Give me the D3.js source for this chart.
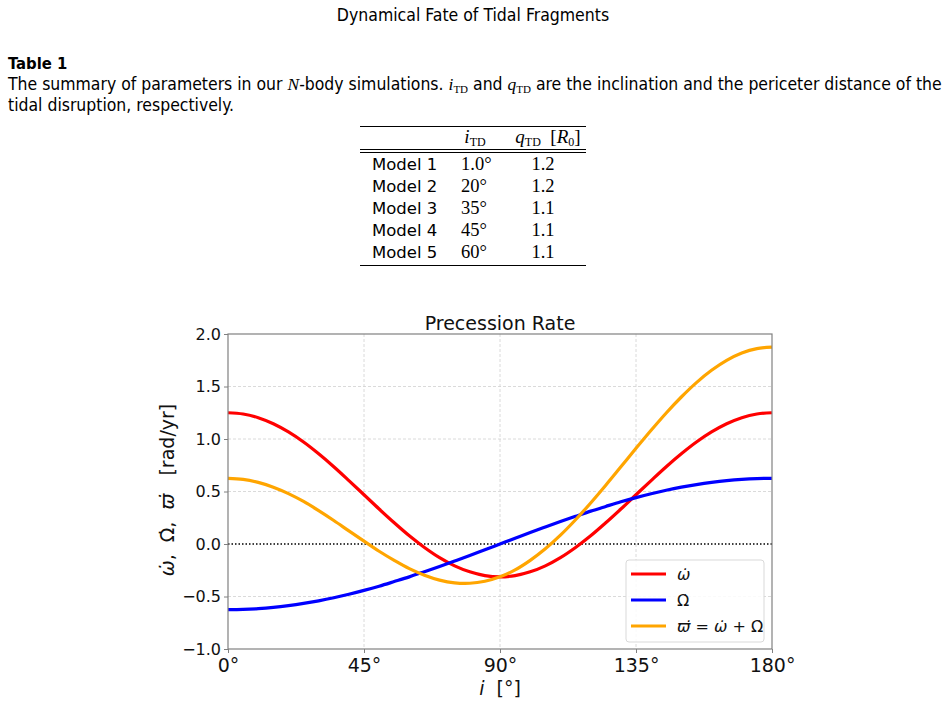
<!DOCTYPE html>
<html><head><meta charset="utf-8">
<script src="https://cdn.jsdelivr.net/npm/d3@7"></script>
<style>
body{margin:0;background:#fff;}
svg text{font-family:"DejaVu Sans",sans-serif;white-space:pre;}
.doc{font-family:"Liberation Sans Narrow","DejaVu Sans Condensed",sans-serif;}
.serif{font-family:"Liberation Serif","DejaVu Serif",serif;}
</style></head>
<body>
<svg id="c" width="946" height="703"></svg>
<script>
const inclination = [0,5,10,15,20,25,30,35,40,45,50,55,60,65,70,75,80,85,90,95,100,105,110,115,120,125,130,135,140,145,150,155,160,165,170,175,180];
const omegaDot = [1.250,1.238,1.203,1.145,1.067,0.971,0.859,0.736,0.604,0.469,0.333,0.202,0.078,-0.033,-0.130,-0.208,-0.265,-0.301,-0.313,-0.301,-0.265,-0.208,-0.130,-0.033,0.078,0.202,0.333,0.469,0.604,0.736,0.859,0.971,1.067,1.145,1.203,1.238,1.250];
const OmegaDot = [-0.625,-0.623,-0.616,-0.604,-0.587,-0.566,-0.541,-0.512,-0.479,-0.442,-0.402,-0.358,-0.313,-0.264,-0.214,-0.162,-0.109,-0.054,0.000,0.054,0.109,0.162,0.214,0.264,0.313,0.358,0.402,0.442,0.479,0.512,0.541,0.566,0.587,0.604,0.616,0.623,0.625];
const varpiDot = [0.625,0.615,0.587,0.541,0.480,0.405,0.318,0.224,0.125,0.027,-0.069,-0.156,-0.235,-0.297,-0.344,-0.370,-0.374,-0.355,-0.313,-0.247,-0.156,-0.046,0.084,0.231,0.391,0.560,0.735,0.911,1.083,1.248,1.400,1.537,1.654,1.749,1.819,1.861,1.875];
const xTicks = [0,45,90,135,180];
const yTicks = [-1.0,-0.5,0.0,0.5,1.0,1.5,2.0];
const seriesColors = ["#ff0000","#0000ff","#ffa500"];
const tableModels = ["Model 1","Model 2","Model 3","Model 4","Model 5"];
const tableInc = ["1.0°","20°","35°","45°","60°"];
const tableQ = ["1.2","1.2","1.1","1.1","1.1"];

const svg = d3.select("#c");

// Document header
svg.append("text").attr("class","doc").attr("x",473).attr("y",21).attr("text-anchor","middle")
  .attr("font-size",17.5).text("Dynamical Fate of Tidal Fragments");
svg.append("text").attr("class","doc").attr("x",8).attr("y",69).attr("font-size",16.5).attr("font-weight","bold").text("Table 1");
const cap1 = svg.append("text").attr("class","doc").attr("x",8).attr("y",90).attr("font-size",17.45);
cap1.append("tspan").text("The summary of parameters in our ");
cap1.append("tspan").attr("class","serif").attr("font-style","italic").text("N");
cap1.append("tspan").text("-body simulations. ");
cap1.append("tspan").attr("class","serif").attr("font-style","italic").text("i");
cap1.append("tspan").attr("class","serif").attr("font-size",11).attr("dy",3).text("TD");
cap1.append("tspan").attr("dy",-3).text(" and ");
cap1.append("tspan").attr("class","serif").attr("font-style","italic").text("q");
cap1.append("tspan").attr("class","serif").attr("font-size",11).attr("dy",3).text("TD");
cap1.append("tspan").attr("dy",-3).text(" are the inclination and the periceter distance of the");
svg.append("text").attr("class","doc").attr("x",8).attr("y",111).attr("font-size",17.45).text("tidal disruption, respectively.");

// Table
const tl = 360, tr = 586;
[126.5,149.5,152.5,265.5].forEach(yy=>{
  svg.append("line").attr("x1",tl).attr("x2",tr).attr("y1",yy).attr("y2",yy).attr("stroke","#000").attr("stroke-width",1);
});
const h1 = svg.append("text").attr("class","serif").attr("x",475).attr("y",143).attr("text-anchor","middle").attr("font-size",19);
h1.append("tspan").attr("font-style","italic").text("i");
h1.append("tspan").attr("font-size",12).attr("dy",3).text("TD");
const h2 = svg.append("text").attr("class","serif").attr("x",548).attr("y",143).attr("text-anchor","middle").attr("font-size",19);
h2.append("tspan").attr("font-style","italic").text("q");
h2.append("tspan").attr("font-size",12).attr("dy",3).text("TD");
h2.append("tspan").attr("dy",-3).text("  [");
h2.append("tspan").attr("font-style","italic").text("R");
h2.append("tspan").attr("font-size",12).attr("dy",3).text("0");
h2.append("tspan").attr("dy",-3).text("]");
const rowY = d3.scaleBand().domain(tableModels).range([153,263]);
tableModels.forEach((m,i)=>{
  const y = rowY(m)+rowY.bandwidth()/2+6;
  svg.append("text").attr("x",372).attr("y",y).attr("font-size",16.5).attr("font-family","DejaVu Sans").text(m);
  svg.append("text").attr("class","serif").attr("x",461).attr("y",y).attr("font-size",18.5).text(tableInc[i]);
  svg.append("text").attr("class","serif").attr("x",543).attr("y",y).attr("text-anchor","middle").attr("font-size",18.5).text(tableQ[i]);
});

// Chart
const L=228, R=772, T=334, B=649;
const x = d3.scaleLinear().domain([0,180]).range([L,R]);
const y = d3.scaleLinear().domain([-1,2]).range([B,T]);
const g = svg.append("g");
g.selectAll(".gx").data([45,90,135]).join("line").attr("x1",d=>x(d)).attr("x2",d=>x(d)).attr("y1",T).attr("y2",B)
  .attr("stroke","#d0d0d0").attr("stroke-width",0.8).attr("stroke-dasharray","3,2");
g.selectAll(".gy").data([-0.5,0.5,1.0,1.5]).join("line").attr("x1",L).attr("x2",R).attr("y1",d=>y(d)).attr("y2",d=>y(d))
  .attr("stroke","#d0d0d0").attr("stroke-width",0.8).attr("stroke-dasharray","3,2");
g.append("line").attr("x1",L).attr("x2",R).attr("y1",y(0)).attr("y2",y(0)).attr("stroke","#000").attr("stroke-width",1.3).attr("stroke-dasharray","1.5,2");

const series=[omegaDot,OmegaDot,varpiDot];
const line = d3.line().x((d,i)=>x(inclination[i])).y(d=>y(d)).curve(d3.curveCatmullRom);
series.forEach((s,k)=>{
  g.append("path").attr("d",line(s)).attr("fill","none").attr("stroke",seriesColors[k]).attr("stroke-width",3.2);
});

g.append("rect").attr("x",L).attr("y",T).attr("width",R-L).attr("height",B-T).attr("fill","none").attr("stroke","#808080").attr("stroke-width",1.2);

const xa = svg.append("g").attr("transform",`translate(0,${B})`)
  .call(d3.axisBottom(x).tickValues(xTicks).tickSize(4).tickFormat(d=>d+"°"));
xa.select(".domain").remove();
xa.selectAll("line").attr("stroke","#808080");
xa.selectAll("text").attr("font-size",19).attr("fill","#111").attr("dy","0.85em").attr("font-family","DejaVu Sans");
const ya = svg.append("g").attr("transform",`translate(${L},0)`)
  .call(d3.axisLeft(y).tickValues(yTicks).tickSize(4).tickFormat(d=>d3.format(".1f")(d).replace("-","−")));
ya.select(".domain").remove();
ya.selectAll("line").attr("stroke","#808080");
ya.selectAll("text").attr("font-size",16).attr("fill","#111").attr("font-family","DejaVu Sans");

svg.append("text").attr("x",(L+R)/2).attr("y",330).attr("text-anchor","middle").attr("font-size",19).attr("fill","#111").text("Precession Rate");
const xl = svg.append("text").attr("x",500).attr("y",695).attr("text-anchor","middle").attr("font-size",19).attr("fill","#111");
xl.append("tspan").attr("font-style","italic").text("i");
xl.append("tspan").text("  [°]");
const yl = svg.append("text").attr("transform",`translate(174,490) rotate(-90)`).attr("text-anchor","middle").attr("font-size",19).attr("fill","#111");
yl.append("tspan").attr("font-style","italic").text("ω̇");
yl.append("tspan").text(",  Ω̇,  ");
yl.append("tspan").attr("font-style","italic").text("ϖ̇");
yl.append("tspan").text("   [rad/yr]");

// legend
const lg = svg.append("g");
lg.append("rect").attr("x",626).attr("y",560).attr("width",138).attr("height",82).attr("rx",3).attr("fill","#fff").attr("fill-opacity",0.85).attr("stroke","#d9d9d9");
const legendParts = [
  [["ω̇",true]],
  [["Ω̇",false]],
  [["ϖ̇",true],[" = ",false],["ω̇",true],[" + ",false],["Ω̇",false]]
];
legendParts.forEach((parts,k)=>{
  const yy = 574+k*26;
  lg.append("line").attr("x1",631).attr("x2",666).attr("y1",yy).attr("y2",yy).attr("stroke",seriesColors[k]).attr("stroke-width",3.2);
  const t = lg.append("text").attr("x",677).attr("y",yy+6).attr("font-size",16).attr("fill","#111").attr("font-family","DejaVu Serif");
  parts.forEach(p=>t.append("tspan").attr("font-style",p[1]?"italic":"normal").text(p[0]));
});
</script>
</body></html>
